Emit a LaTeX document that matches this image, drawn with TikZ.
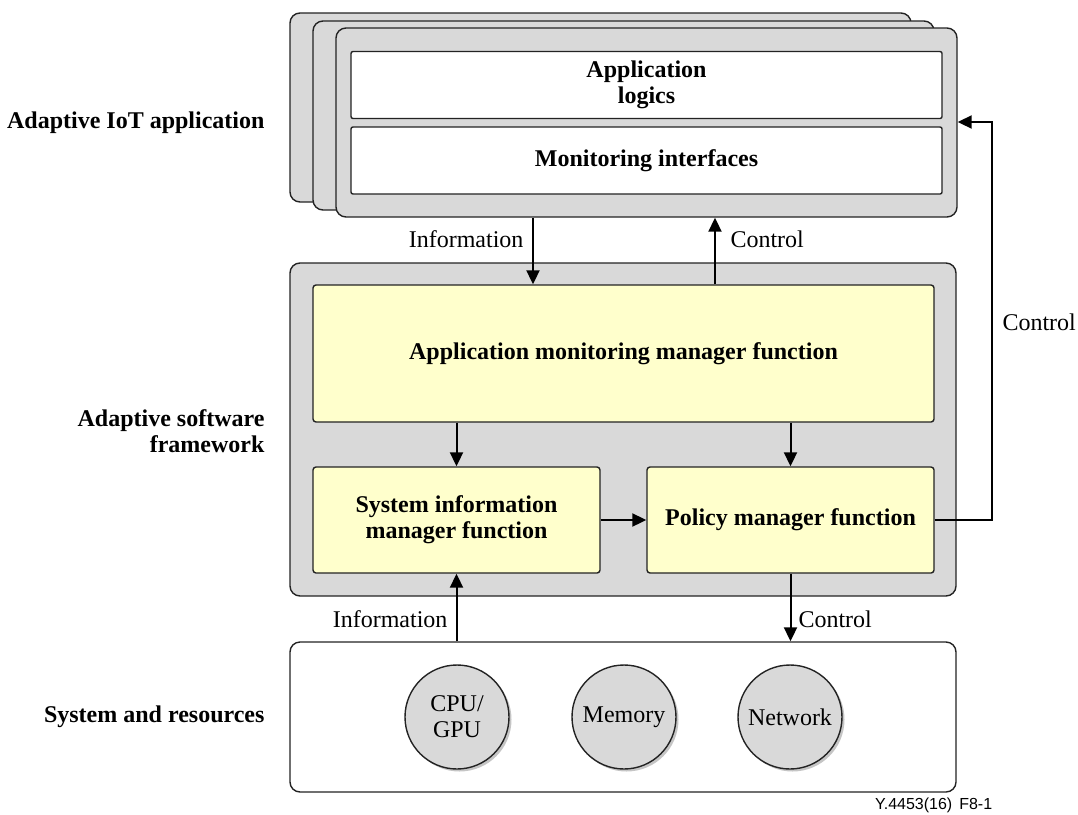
\documentclass[tikz,border=0pt]{standalone}
\usepackage{fontspec}
\setmainfont{Liberation Serif}
\newfontfamily\labelsans{Liberation Sans}
\usetikzlibrary{arrows.meta,shadows,calc}
\definecolor{boxgray}{RGB}{217,217,217}
\definecolor{boxyellow}{RGB}{255,255,204}
\definecolor{edge}{RGB}{35,35,35}
\tikzset{
  txt/.style={font=\fontsize{24}{26}\selectfont},
  btxt/.style={font=\fontsize{24}{26}\selectfont\bfseries},
  graybox/.style={draw=edge,line width=1.4pt,fill=boxgray,rounded corners=10pt,inner sep=0pt},
  whitebox/.style={draw=edge,line width=1.4pt,fill=white,rounded corners=2pt,inner sep=0pt,btxt,align=center},
  yellowbox/.style={draw=edge,line width=1.4pt,fill=boxyellow,rounded corners=3pt,inner sep=0pt,btxt,align=center},
  resbox/.style={draw=edge,line width=1.4pt,fill=white,rounded corners=10pt,inner sep=0pt},
  res/.style={circle,draw=edge,line width=1.4pt,fill=boxgray,minimum size=104pt,inner sep=0pt,txt,align=center,
    drop shadow={shadow xshift=2.5pt,shadow yshift=-2.5pt,fill=gray,opacity=0.45}},
  arr/.style={draw=black,line width=2pt,-{Triangle[length=14pt,width=13pt]}},
}
\begin{document}
\begin{tikzpicture}[x=1pt,y=-1pt]
\useasboundingbox (0,0) rectangle (1078,814);
% stacked application boxes
\node[graybox,minimum width=621pt,minimum height=189pt] (back) at (600.5,107.5) {};
\node[graybox,minimum width=621pt,minimum height=189pt] (mid) at (623.5,115.5) {};
\node[graybox,minimum width=621pt,minimum height=189pt] (front) at (646.5,122.5) {};
\node[whitebox,minimum width=591pt,minimum height=67pt] (logic) at (646.5,85) {Application\\logics};
\node[whitebox,minimum width=591pt,minimum height=67pt] (monif) at (646.5,160.5) {Monitoring interfaces};
% framework
\node[graybox,minimum width=666pt,minimum height=333pt] (frame) at (623,429.5) {};
\node[yellowbox,minimum width=621pt,minimum height=137pt] (amm) at (623.5,353.5) {Application monitoring manager function};
\node[yellowbox,minimum width=287pt,minimum height=106pt] (sim) at (456.5,520) {System information\\manager function};
\node[yellowbox,minimum width=287pt,minimum height=106pt] (pol) at (790.5,520) {Policy manager function};
% resources
\node[resbox,minimum width=666pt,minimum height=150pt] (sys) at (623,717) {};
\node[res] (cpu) at (457,717) {CPU/\\GPU};
\node[res] (mem) at (624,717) {Memory};
\node[res] (net) at (790,717) {Network};
% left labels
\node[btxt,anchor=east] (l1) at (268,123) {Adaptive IoT application};
\node[btxt,anchor=east,align=right] (l2) at (268,431) {Adaptive software\\framework};
\node[btxt,anchor=east] (l3) at (268,717) {System and resources};
% helper coordinates
\coordinate (xi) at (533,0);
\coordinate (xc) at (715,0);
\coordinate (ya) at (0,122);
\coordinate (xr) at (992,0);
% connectors
\draw[arr] (xi |- front.south) -- (xi |- amm.north);
\draw[arr] (xc |- amm.north) -- (xc |- front.south);
\draw[arr] (amm.south -| sim.north) -- (sim.north);
\draw[arr] (amm.south -| pol.north) -- (pol.north);
\draw[arr] (sim.east) -- (pol.west);
\draw[arr] (pol.east) -- (xr |- pol.east) |- (front.east |- ya);
\draw[arr] (sim.south |- sys.north) -- (sim.south);
\draw[arr] (pol.south) -- (pol.south |- sys.north);
% connector labels
\node[txt,anchor=east] (t1) at (527,239) {Information};
\node[txt,anchor=west] (t2) at (727,239) {Control};
\node[txt,anchor=west] (t3) at (999,322) {Control};
\node[txt,anchor=east] (t4) at (451,619) {Information};
\node[txt,anchor=west] (t5) at (795,619) {Control};
\node[font=\labelsans\fontsize{16}{18}\selectfont,anchor=west,inner sep=0pt] (fig) at (875,805) {Y.4453(16)\hspace{7pt}F8-1};
\end{tikzpicture}
\end{document}
